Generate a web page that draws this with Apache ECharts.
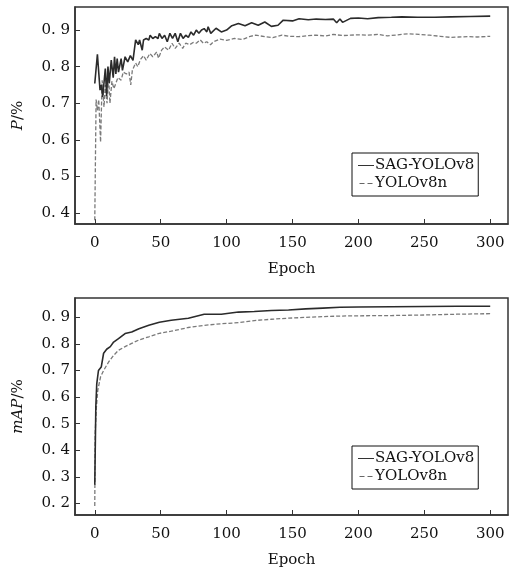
<!DOCTYPE html>
<html><head><meta charset="utf-8">
<script src="https://cdn.jsdelivr.net/npm/echarts@6/dist/echarts.min.js"></script>
<style>html,body{margin:0;padding:0;background:#fff}#c{width:522px;height:570px}</style>
</head><body><div id="c"></div>
<script>
// ---- data ----
const seriesNames = ['SAG-YOLOv8', 'YOLOv8n'];
const xTicks = [0, 50, 100, 150, 200, 250, 300];
const pTicks = [0.4, 0.5, 0.6, 0.7, 0.8, 0.9];
const mapTicks = [0.2, 0.3, 0.4, 0.5, 0.6, 0.7, 0.8, 0.9];

// Precision, SAG-YOLOv8
const pSagEpoch = [0,2,4,5,6,8,9,10,11,12.5,14,15,16,17,18,20,21,23,25,27,29,31,33,34,36,37,39,41,42,44,46,48,49,51,53,55,57,59,61,63,65,67,69,71,73,75,77,79,81,83,85,86,88,92,96,100,104,109,114,119,124,129,134,139,143,150,155,162,168,175,181,183.5,186,188,194,200,207,215,225,233,245,258,270,285,300];
const pSagVal   = [0.754,0.834,0.736,0.75,0.717,0.795,0.72,0.80,0.755,0.818,0.77,0.827,0.78,0.822,0.785,0.822,0.79,0.827,0.813,0.83,0.817,0.873,0.86,0.873,0.845,0.873,0.877,0.873,0.886,0.877,0.882,0.877,0.891,0.877,0.886,0.868,0.891,0.877,0.891,0.868,0.891,0.877,0.886,0.88,0.895,0.886,0.90,0.891,0.90,0.904,0.895,0.909,0.891,0.905,0.895,0.90,0.912,0.918,0.912,0.92,0.913,0.922,0.91,0.913,0.927,0.925,0.931,0.928,0.93,0.929,0.93,0.92,0.93,0.921,0.932,0.933,0.931,0.934,0.935,0.936,0.935,0.935,0.936,0.937,0.938];

// Precision, YOLOv8n
const pV8Epoch = [0,1,2,3,4.4,5.6,7,8,9.3,10.5,11.5,13,14.5,16,17.6,20,21.6,24,26,27.3,28.5,31,32.6,34.7,37,39,41.8,44,47,48.4,50.7,53,56,58.6,61,64,66.7,69,72,74.6,77,80,82.4,85,87.8,90,95,100,106,112,118,122,129,135,142,148,155,162,168,175,181,188,194,200,207,215,222,230,238,246,254,262,270,276,283,290,300];
const pV8Val   = [0.38,0.71,0.68,0.71,0.594,0.763,0.69,0.75,0.70,0.77,0.70,0.76,0.74,0.736,0.77,0.763,0.785,0.78,0.785,0.75,0.79,0.81,0.80,0.82,0.83,0.818,0.836,0.827,0.84,0.823,0.845,0.854,0.845,0.864,0.85,0.864,0.85,0.864,0.86,0.866,0.864,0.873,0.864,0.868,0.86,0.868,0.875,0.872,0.877,0.874,0.883,0.886,0.882,0.879,0.886,0.883,0.882,0.885,0.886,0.884,0.888,0.885,0.886,0.887,0.886,0.888,0.884,0.887,0.89,0.888,0.886,0.883,0.88,0.881,0.882,0.881,0.883];

// mAP, SAG-YOLOv8
const mSagEpoch = [0,0.8,1.5,2.8,4.9,6.7,9,11.8,14.3,18,23,28,33.5,41,49,58,71,83,96,109,121,134,147,160,173,186,200,225,250,275,300];
const mSagVal   = [0.27,0.563,0.65,0.70,0.713,0.765,0.78,0.79,0.807,0.82,0.839,0.845,0.857,0.87,0.882,0.889,0.897,0.912,0.912,0.92,0.922,0.926,0.928,0.932,0.935,0.938,0.939,0.94,0.941,0.942,0.942];

// mAP, YOLOv8n
const mV8Epoch = [0,0.3,1.2,2.3,4.4,6.7,10.5,14.3,18,23,28,33.5,41,49,58,71,83,96,109,121,134,147,160,173,186,200,225,250,275,300];
const mV8Val   = [0.19,0.464,0.56,0.626,0.676,0.70,0.732,0.757,0.776,0.79,0.802,0.815,0.827,0.84,0.848,0.862,0.87,0.876,0.88,0.888,0.893,0.897,0.90,0.903,0.905,0.906,0.907,0.909,0.912,0.914];

// ---- build ----
const pair = (xs, ys) => xs.map((x, i) => [x, ys[i]]);
const FONT = '"DejaVu Serif","Liberation Serif",serif';
const AX = '#333';
const TXT = '#111';
const fmt = v => v.toFixed(1).replace('.', '. ');

function xAxis(gi) {
  return {
    type: 'value', gridIndex: gi, min: -15, max: 313.5,
    name: 'Epoch', nameLocation: 'middle', nameGap: 38,
    nameTextStyle: {fontFamily: FONT, fontSize: 15, color: TXT},
    axisLine: {show: true, onZero: false, lineStyle: {color: AX, width: 1.5}},
    axisTick: {show: true, inside: true, length: 5, customValues: xTicks, lineStyle: {color: AX}},
    axisLabel: {customValues: xTicks, fontFamily: FONT, fontSize: 15, color: TXT, margin: 12},
    splitLine: {show: false}
  };
}
function yAxis(gi, min, max, ticks, name) {
  return {
    type: 'value', gridIndex: gi, min: min, max: max,
    name: name, nameLocation: 'middle', nameGap: 49,
    nameTextStyle: {fontFamily: FONT, fontSize: 15, color: TXT,
      rich: {i: {fontStyle: 'italic', fontFamily: FONT, fontSize: 15, color: TXT},
             n: {fontFamily: FONT, fontSize: 15, color: TXT}}},
    axisLine: {show: true, onZero: false, lineStyle: {color: AX, width: 1.5}},
    axisTick: {show: true, inside: true, length: 5, customValues: ticks, lineStyle: {color: AX}},
    axisLabel: {customValues: ticks, formatter: fmt, fontFamily: FONT, fontSize: 15, color: TXT, margin: 5},
    splitLine: {show: false}
  };
}
const solid = {color: '#2b2b2b', width: 1.6, type: 'solid'};
const dashed = {color: '#7a7a7a', width: 1.3, type: [4, 2]};
function line(name, gi, data, ls) {
  return {type: 'line', name: name, xAxisIndex: gi, yAxisIndex: gi, data: data,
    showSymbol: false, symbol: 'none', lineStyle: ls, itemStyle: {color: ls.color},
    animation: false};
}
const solidIcon = 'path://M0,0h16v1h-16z';
const dashIcon = 'path://M0,0h5v1h-5zM8,0h5v1h-5z';
function legend(top) {
  return {
    left: 352, top: top, orient: 'vertical',
    data: [{name: seriesNames[0], icon: solidIcon, itemStyle: {color: '#333'}},
           {name: seriesNames[1], icon: dashIcon, itemStyle: {color: '#666'}}],
    backgroundColor: '#fff', borderColor: '#111', borderWidth: 1,
    padding: [5, 4, 5, 6], itemGap: 3, itemWidth: 16, itemHeight: 1,
    textStyle: {fontFamily: FONT, fontSize: 15, color: TXT, padding: [0, 0, 0, -4]},
    selectedMode: false
  };
}

const chart = echarts.init(document.getElementById('c'), null, {renderer: 'canvas'});
chart.setOption({
  backgroundColor: '#fff',
  animation: false,
  grid: [
    {left: 75, top: 7, width: 433, height: 217, show: true, borderColor: AX, borderWidth: 1.5, backgroundColor: 'transparent'},
    {left: 75, top: 298, width: 433, height: 217, show: true, borderColor: AX, borderWidth: 1.5, backgroundColor: 'transparent'}
  ],
  legend: [legend(153), legend(446)],
  xAxis: [xAxis(0), xAxis(1)],
  yAxis: [yAxis(0, 0.37, 0.963, pTicks, '{i|P}{n|/%}'), yAxis(1, 0.156, 0.973, mapTicks, '{i|mAP}{n|/%}')],
  series: [
    line(seriesNames[1], 0, pair(pV8Epoch, pV8Val), dashed),
    line(seriesNames[0], 0, pair(pSagEpoch, pSagVal), solid),
    line(seriesNames[1], 1, pair(mV8Epoch, mV8Val), dashed),
    line(seriesNames[0], 1, pair(mSagEpoch, mSagVal), solid)
  ]
});
</script></body></html>
